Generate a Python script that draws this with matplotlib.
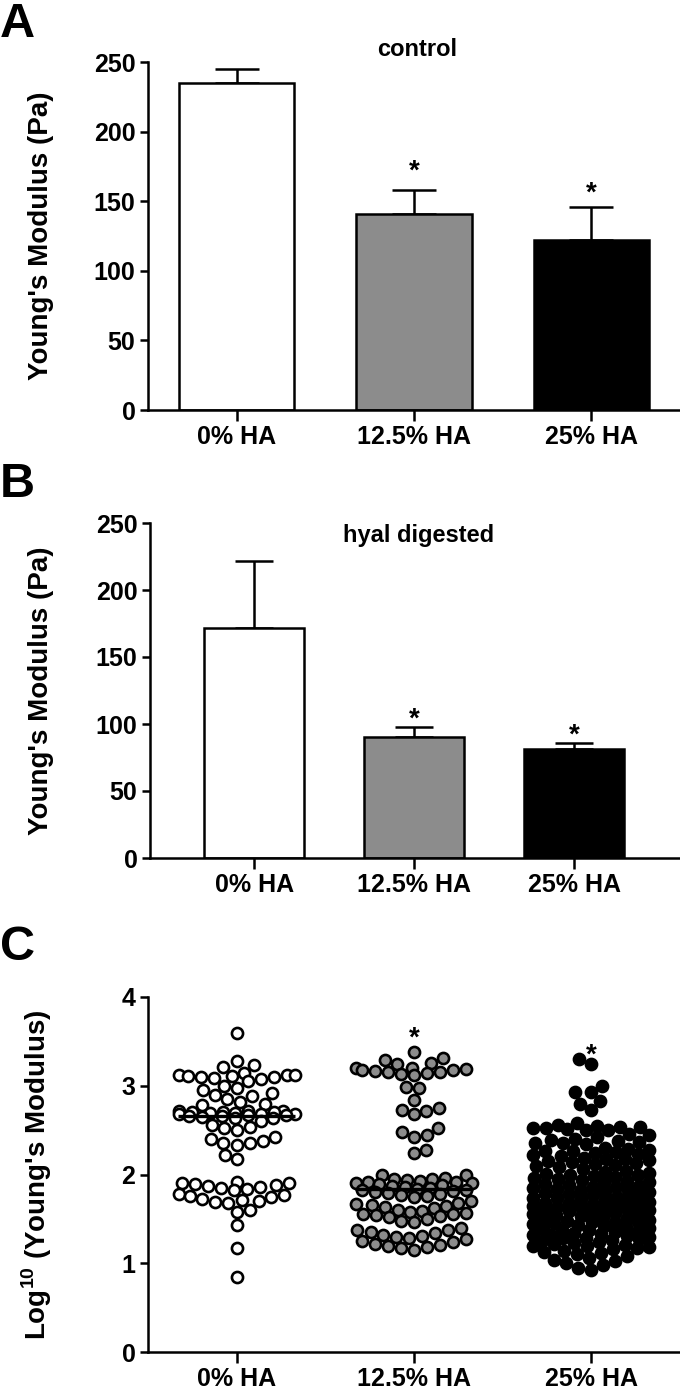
import matplotlib.pyplot as plt
import numpy as np

plt.rcParams['font.family'] = ['Liberation Sans', 'DejaVu Sans']
plt.rcParams['font.weight'] = 'bold'
plt.rcParams['axes.labelweight'] = 'bold'
plt.rcParams['axes.titleweight'] = 'bold'
plt.rcParams['mathtext.fontset'] = 'custom'
plt.rcParams['mathtext.rm'] = 'Liberation Sans:bold'
plt.rcParams['mathtext.bf'] = 'Liberation Sans:bold'

groups = ['0% HA', '12.5% HA', '25% HA']
fill_colors = ['white', '#8c8c8c', 'black']

# panel A / B : mean and upper error (Pa)
control_mean = [235, 141, 122]
control_err = [10, 17, 24]
control_star_y = [178, 162]
hyal_mean = [172, 90, 81]
hyal_err = [50, 8, 5]
hyal_star_y = [110, 98]

log_0 = [3.6,
         3.28, 3.23, 3.21,
         3.14, 3.12, 3.12, 3.11, 3.10, 3.10, 3.09, 3.08, 3.12, 3.11, 3.05,
         3.0, 2.98, 2.95, 2.92, 2.9, 2.88, 2.85, 2.82, 2.8, 2.78,
         2.72, 2.71, 2.71, 2.70, 2.70, 2.70, 2.69, 2.69, 2.68, 2.68, 2.68,
         2.67, 2.67, 2.66, 2.66, 2.65, 2.64, 2.64,
         2.6, 2.56, 2.53, 2.52, 2.5,
         2.42, 2.4, 2.38, 2.36, 2.35, 2.33,
         2.22, 2.18,
         1.92, 1.9, 1.9, 1.89, 1.88, 1.87, 1.86, 1.85, 1.84, 1.82,
         1.78, 1.77, 1.76, 1.75,
         1.72, 1.71, 1.7, 1.69, 1.68,
         1.6, 1.58,
         1.43, 1.17, 0.85]

log_12 = [3.38,
          3.31, 3.29, 3.26, 3.25,
          3.2, 3.19, 3.18, 3.17, 3.16, 3.15, 3.14, 3.13, 3.12, 3.2, 3.18,
          2.99, 2.97,
          2.84,
          2.75, 2.73, 2.72, 2.68,
          2.52, 2.48, 2.45, 2.42,
          2.28, 2.24,
          2.0, 1.99, 1.96, 1.95, 1.95, 1.94,
          1.93, 1.92, 1.91, 1.9, 1.9, 1.89, 1.88, 1.87, 1.86, 1.85, 1.84,
          1.83, 1.82, 1.81, 1.8, 1.79, 1.78, 1.77, 1.76, 1.75,
          1.7, 1.68, 1.67, 1.66, 1.65, 1.63, 1.62, 1.6, 1.59, 1.58, 1.57,
          1.56, 1.55, 1.54, 1.53, 1.52, 1.5, 1.48, 1.47,
          1.4, 1.38, 1.37, 1.35, 1.34, 1.32, 1.31, 1.3, 1.28, 1.27, 1.25,
          1.24, 1.22, 1.21, 1.2, 1.18, 1.17, 1.15]

log_25 = [3.3, 3.25, 3.0, 2.93, 2.93, 2.83, 2.8, 2.73,
          2.58, 2.56, 2.55, 2.54, 2.53, 2.52, 2.52, 2.51, 2.5, 2.5,
          2.46, 2.44, 2.42, 2.4, 2.39, 2.38, 2.37, 2.36, 2.35, 2.34,
          2.3, 2.29, 2.28, 2.27, 2.26, 2.25, 2.24, 2.23, 2.22, 2.21,
          2.19, 2.18, 2.17, 2.16, 2.15, 2.14, 2.13, 2.12, 2.11, 2.1, 2.08, 2.06,
          2.04, 2.03, 2.02, 2.01, 2.0, 1.99, 1.98, 1.97, 1.96, 1.95, 1.94,
          1.93, 1.92, 1.91,
          1.89, 1.88, 1.87, 1.86, 1.86, 1.85, 1.84, 1.83, 1.82, 1.81, 1.8,
          1.79, 1.78, 1.77, 1.76, 1.75,
          1.74, 1.73, 1.72, 1.71, 1.7, 1.69, 1.68, 1.68, 1.67, 1.66, 1.65,
          1.64, 1.63, 1.63, 1.62, 1.61, 1.6, 1.6,
          1.59, 1.58, 1.57, 1.56, 1.55, 1.54, 1.53, 1.52, 1.51, 1.5, 1.49,
          1.48, 1.47, 1.46, 1.46, 1.45,
          1.44, 1.43, 1.42, 1.41, 1.4, 1.39, 1.38, 1.37, 1.36, 1.35, 1.34,
          1.33, 1.32, 1.32, 1.31, 1.3,
          1.29, 1.28, 1.27, 1.26, 1.25, 1.24, 1.23, 1.22, 1.21, 1.2, 1.19,
          1.18, 1.17, 1.16,
          1.14, 1.13, 1.12, 1.1, 1.08, 1.06, 1.04, 1.02, 1.0, 0.98, 0.95, 0.92]
log_groups = [log_0, log_12, log_25]
swarm_star_y = [3.63, 3.44]

fig = plt.figure(figsize=(6.8, 13.92), dpi=100)
W, H = 680.0, 1392.0


def px_axes(left, top, right, bottom):
    return fig.add_axes([left / W, 1 - bottom / H, (right - left) / W, (bottom - top) / H])


def style(ax, ymax, ystep, xlim):
    for s in ['top', 'right']:
        ax.spines[s].set_visible(False)
    for s in ['left', 'bottom']:
        ax.spines[s].set_linewidth(1.8)
    ax.set_xlim(*xlim)
    ax.set_ylim(0, ymax)
    ax.set_yticks(np.arange(0, ymax + ystep / 2, ystep))
    ax.set_xticks(range(3))
    ax.set_xticklabels(groups)
    ax.tick_params(axis='y', length=6, width=1.8, labelsize=18, pad=3)
    ax.tick_params(axis='x', length=8, width=1.8, labelsize=18, pad=3)


def star(ax, x, y, fs=20):
    ax.annotate('*', (x, y), xytext=(0, -0.58 * fs), textcoords='offset points',
                ha='center', va='baseline', fontsize=fs, fontweight='bold')


def bar_panel(box, means, errs, title, title_top, xlim, width, capsize, star_y):
    ax = px_axes(*box)
    x = np.arange(3)
    ax.bar(x, means, width, color=fill_colors, edgecolor='black', linewidth=1.8, zorder=2)
    ax.errorbar(x, means, yerr=[np.zeros(3), errs], fmt='none', ecolor='black',
                elinewidth=1.8, capsize=capsize, capthick=1.8, zorder=1)
    for i, y in zip([1, 2], star_y):
        star(ax, i, y)
    fig.text((box[0] + box[2]) / 2 / W + 0.005, 1 - title_top / H, title, fontsize=17,
             fontweight='bold', ha='center', va='center')
    style(ax, 250, 50, xlim)
    ax.set_ylabel("Young's Modulus (Pa)", fontsize=20)
    ax.yaxis.set_label_coords(-(box[0] - 54) / (box[2] - box[0]), 0.5)
    return ax


def swarm_offsets(vals, xpx, ypx, diam, half, step):
    # beeswarm: each point (ascending) takes the least-overlapping slot nearest the centre
    vals = np.asarray(vals, float)
    cand = np.arange(-half, half + 1e-9, step)
    out = np.zeros(len(vals))
    px_list, py_list = [], []
    for n, k in enumerate(np.argsort(vals, kind='stable')):
        y = vals[k] * ypx
        best = 0.0
        if px_list:
            pxa, pya = np.array(px_list), np.array(py_list)
            near = np.abs(pya - y) < diam
            if near.any():
                d = np.hypot(cand[:, None] - pxa[near], y - pya[near])
                pen = np.clip(diam - d, 0, None).sum(axis=1)
                side = 1 if n % 2 else -1
                score = pen + 1e-3 * np.abs(cand) + 1e-6 * side * cand
                best = cand[np.argmin(score)]
        px_list.append(best)
        py_list.append(y)
        out[k] = best / xpx
    return out


bar_panel((148, 62, 680, 410), control_mean, control_err, 'control', 50,
          (-0.5, 2.5), 0.65, 16, control_star_y)
bar_panel((150, 523, 680, 858), hyal_mean, hyal_err, 'hyal digested', 535,
          (-0.65, 2.66), 0.625, 14, hyal_star_y)

# panel C swarm
axc = px_axes(148, 997, 680, 1352)
for i, vals in enumerate(log_groups):
    off = swarm_offsets(vals, 532 / 3.0, 355 / 4.0, 12.5, 58, 1.0)
    axc.scatter(i + off, vals, s=64, facecolor=fill_colors[i], edgecolor='black',
                linewidth=1.9, zorder=2)
    axc.hlines(np.median(vals), i - 0.33, i + 0.33, color='black', lw=2.4, zorder=3)
for i, y in zip([1, 2], swarm_star_y):
    star(axc, i, y)
style(axc, 4, 1, (-0.5, 2.5))
axc.set_ylabel("Log$^{\\mathbf{10}}$ (Young's Modulus)", fontsize=20)
axc.yaxis.set_label_coords(-(148 - 54) / 532.0, 0.5)

for letter, top in [('A', 2), ('B', 462), ('C', 925)]:
    fig.text(0.0, 1 - top / H, letter, fontsize=35, fontweight='bold', va='top', ha='left')

fig.savefig('out.png', dpi=100)
